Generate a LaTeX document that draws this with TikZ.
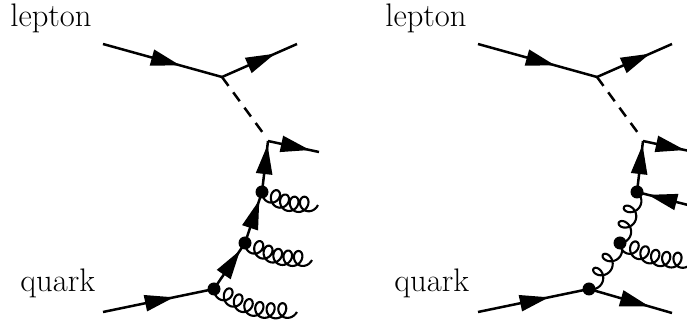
\documentclass[tikz,border=0pt]{standalone}
\usetikzlibrary{calc,decorations.markings}
\tikzset{
  x=0.5pt,y=-0.5pt,
  wire/.style={line width=1.25pt},
  fermion/.style={wire,postaction={decorate},decoration={markings,
    mark=at position #1 with {\fill[black] (-13.5pt,4.2pt)--(0,0.3pt)--(0,-0.3pt)--(-13.5pt,-4.2pt)--cycle;}}},
  fermion/.default=0.65,
  boson/.style={line width=1.25pt,dash pattern=on 5.5pt off 4pt},
  gluonline/.style={line width=1.05pt,line join=round},
  vertex/.style={circle,fill=black,inner sep=0pt,minimum size=6.5pt},
  lab/.style={anchor=base west,inner sep=0pt,font=\fontsize{16.3}{19}\selectfont},
}
% from, to, loops, sag (pt, to the right of the direction of travel)
\newcommand\gluonline[4]{%
  \draw[gluonline] let \p1=($(#2)-(#1)$),\n1={veclen(\x1,\y1)},\n2={atan2(\y1,\x1)} in
    \pgfextra{\pgfmathsetmacro\glen{\n1/1pt}\pgfmathsetmacro\gang{\n2}%
      \pgfmathsetmacro\gtot{360*#3+180}\pgfmathsetmacro\gc{(\glen-6.6)/\gtot}\pgfmathsetmacro\gs{180/\gtot}}
    [shift={(#1)},rotate=\gang]
    plot[variable=\t,domain=-90:{360*#3+90},samples={(360*#3+180)/15+1},smooth]
    ({(\gc*(\t+90)+3.3*sin(\t)+3.3)*1pt},{(-3.8*cos(\t)-#4*sin(\gs*(\t+90)))*1pt});
}
\begin{document}
\begin{tikzpicture}
\useasboundingbox (0,0) rectangle (687,320);
\clip (0,0) rectangle (687,320);
% left
\node[lab] (l1) at (10,27) {lepton};
\node[lab] (q1) at (20,292) {quark};
\coordinate (a1) at (103,44);
\coordinate (a2) at (222,77);
\coordinate (a3) at (297,44);
\coordinate (a4) at (263,133);
\coordinate (b0) at (268,141);
\coordinate (b1) at (319,152);
\coordinate (c0) at (103,312);
\node[vertex] (v1) at (214,289) {};
\node[vertex] (v2) at (245,243) {};
\node[vertex] (v3) at (262,192) {};
\coordinate (g1) at (297,312);
\coordinate (g2) at (312,260);
\coordinate (g3) at (318,205);
\draw[fermion=0.63] (a1)--(a2);
\draw[fermion=0.68] (a2)--(a3);
\draw[boson] (a2)--(a4);
\draw[fermion=0.78] (b0)--(b1);
\draw[fermion=0.62] (c0)--(v1.center);
\draw[fermion=0.8] (v1.center)--(v2.center);
\draw[fermion=0.8] (v2.center)--(v3.center);
\draw[fermion=0.88] (v3.center)--(b0);
\gluonline{v1.center}{g1}{6}{4}
\gluonline{v2.center}{g2}{5}{2.5}
\gluonline{v3.center}{g3}{4}{2.5}
% right
\node[lab] (l2) at (385,27) {lepton};
\node[lab] (q2) at (394,292) {quark};
\coordinate (A1) at (478,44);
\coordinate (A2) at (597,77);
\coordinate (A3) at (672,44);
\coordinate (A4) at (638,133);
\coordinate (B0) at (643,141);
\coordinate (B1) at (694,152);
\coordinate (C0) at (478,312);
\coordinate (C1) at (672,313);
\coordinate (Q) at (692,206);
\node[vertex] (V1) at (589,289) {};
\node[vertex] (V2) at (620,243) {};
\node[vertex] (V3) at (637,192) {};
\coordinate (G1) at (692,262);
\draw[fermion=0.63] (A1)--(A2);
\draw[fermion=0.68] (A2)--(A3);
\draw[boson] (A2)--(A4);
\draw[fermion=0.78] (B0)--(B1);
\draw[fermion=0.62] (C0)--(V1.center);
\draw[fermion=0.7] (V1.center)--(C1);
\draw[fermion=0.76] (Q)--(V3.center);
\draw[fermion=0.88] (V3.center)--(B0);
\gluonline{V1.center}{V2.center}{2}{0}
\gluonline{V2.center}{V3.center}{2}{0}
\gluonline{V2.center}{G1}{5}{2.5}
\end{tikzpicture}
\end{document}
